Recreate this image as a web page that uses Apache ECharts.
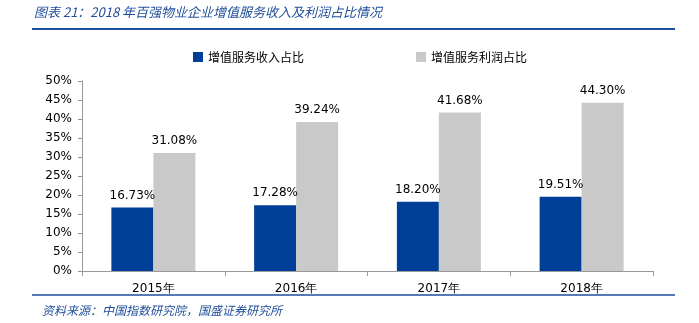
<!DOCTYPE html>
<html><head><meta charset="utf-8">
<script src="https://cdn.jsdelivr.net/npm/echarts@6/dist/echarts.min.js"></script>
<style>html,body{margin:0;padding:0;background:#fff}#c{width:699px;height:323px}</style>
</head><body><div id="c"></div>
<script>
const categories = ['2015年','2016年','2017年','2018年'];
const incomeShare = [16.73, 17.28, 18.20, 19.51];
const profitShare = [31.08, 39.24, 41.68, 44.30];
const seriesNames = ['增值服务收入占比','增值服务利润占比'];
const titleText = '图表 21：2018 年百强物业企业增值服务收入及利润占比情况';
const sourceText = '资料来源：中国指数研究院，国盛证券研究所';

const chart = echarts.init(document.getElementById('c'));
const numFont = 'DejaVu Sans, Verdana, sans-serif';
const cjk = '"Noto Sans CJK SC", sans-serif';
chart.setOption({
  animation:false,
  graphic:[
    {type:'text', left:34, top:6, style:{text:titleText, fill:'#1f4e9c', font:'italic 13px "Noto Sans CJK SC", sans-serif'}},
    {type:'line', shape:{x1:32,y1:29,x2:675,y2:29}, style:{stroke:'#1f4e9c', lineWidth:2}},
    {type:'line', shape:{x1:32,y1:295,x2:675,y2:295}, style:{stroke:'#1f4e9c', lineWidth:1.5}},
    {type:'text', left:42, top:304, style:{text:sourceText, fill:'#1f4e9c', font:'italic 12px "Noto Sans CJK SC", sans-serif'}}
  ],
  legend:{
    top:46, left:188, itemGap:112, itemWidth:10, itemHeight:10, icon:'rect',
    textStyle:{fontFamily:cjk, fontSize:12, color:'#000'},
    data:seriesNames
  },
  grid:{left:82, right:46, top:81, bottom:52},
  xAxis:{
    type:'category', data:categories,
    axisLine:{lineStyle:{color:'#999'}},
    axisTick:{show:true, alignWithLabel:false, lineStyle:{color:'#999'}, length:5},
    axisLabel:{color:'#000', fontSize:12, fontFamily:numFont, margin:12}
  },
  yAxis:{
    type:'value', min:0, max:50, interval:5,
    axisLine:{show:true, lineStyle:{color:'#999'}},
    axisTick:{show:true, lineStyle:{color:'#999'}, length:4},
    splitLine:{show:false},
    axisLabel:{formatter:'{value}%', color:'#000', fontSize:12, fontFamily:numFont, margin:10}
  },
  series:[
    {name:seriesNames[0], type:'bar', data:incomeShare, barWidth:42, barGap:'0%',
     itemStyle:{color:'#003f98'},
     label:{show:true, position:'top', formatter:p=>p.value.toFixed(2)+'%', color:'#000', fontSize:12, fontFamily:numFont, distance:6}},
    {name:seriesNames[1], type:'bar', data:profitShare, barWidth:42, barGap:'0%',
     itemStyle:{color:'#c9c9c9'},
     label:{show:true, position:'top', formatter:p=>p.value.toFixed(2)+'%', color:'#000', fontSize:12, fontFamily:numFont, distance:6}}
  ]
});
</script></body></html>
